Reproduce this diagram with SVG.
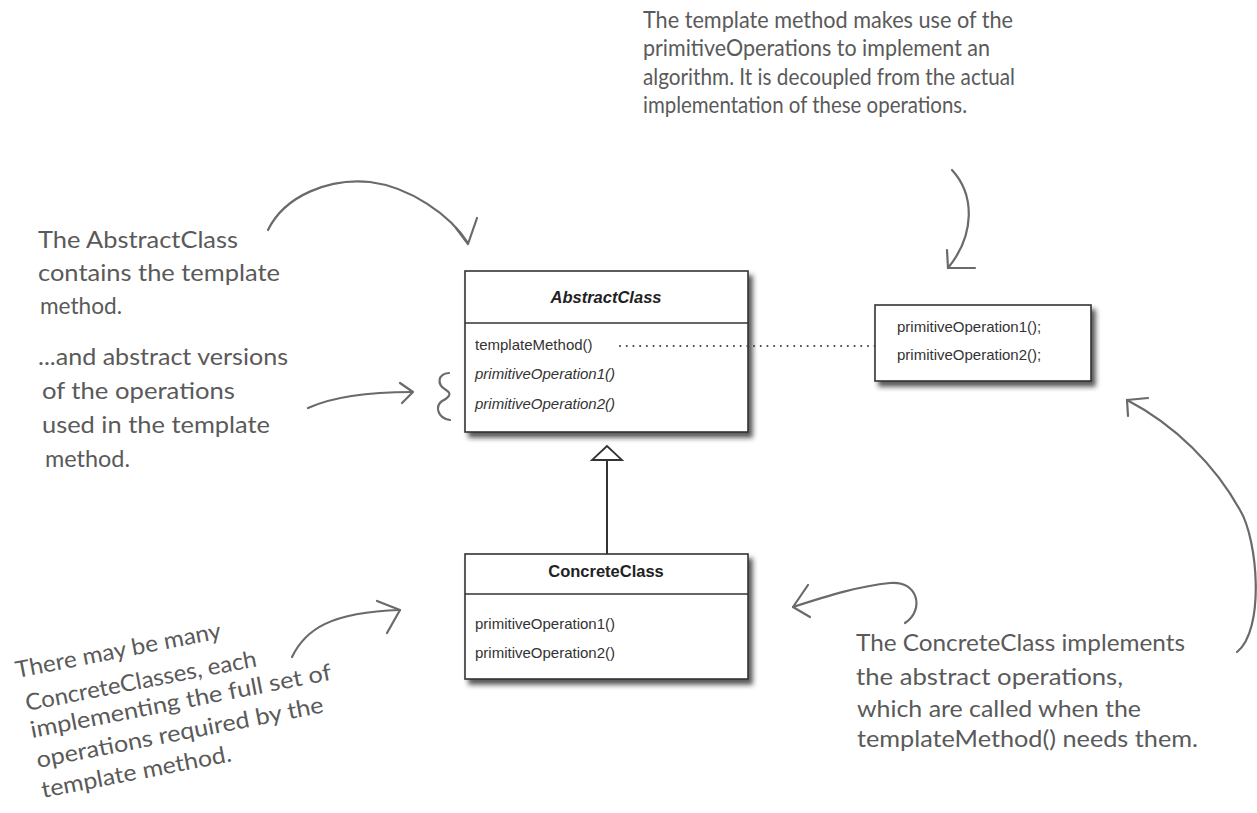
<svg xmlns="http://www.w3.org/2000/svg" width="1257" height="813" viewBox="0 0 1257 813">
<defs>
<filter id="shadow" x="-10%" y="-10%" width="130%" height="130%">
<feDropShadow dx="4" dy="5" stdDeviation="2.5" flood-color="#222" flood-opacity="0.75"/>
</filter>
</defs>
<style>
.box{fill:#fff;stroke:#333;stroke-width:1.6}
.div{stroke:#333;stroke-width:1.4}
.uml{font-family:"Liberation Sans",Arial,sans-serif;font-size:15px;fill:#333}
.title{font-family:"Liberation Sans",Arial,sans-serif;font-size:16.5px;font-weight:bold;fill:#222}
.hand{font-family:Lato,"Open Sans",sans-serif;font-size:23px;fill:#5a5a5a}
.pen{fill:none;stroke:#6a6a6a;stroke-width:2.2;stroke-linecap:round;stroke-linejoin:round}
</style>
<rect width="1257" height="813" fill="#fff"/>

<g id="abstract-class">
<rect class="box" x="465" y="271" width="283" height="161" filter="url(#shadow)"/>
<line class="div" x1="465" y1="323" x2="748" y2="323"/>
<text class="title" x="606" y="303" text-anchor="middle" font-style="italic">AbstractClass</text>
<text class="uml" x="475" y="350">templateMethod()</text>
<text class="uml" x="475" y="379" font-style="italic">primitiveOperation1()</text>
<text class="uml" x="475" y="409" font-style="italic">primitiveOperation2()</text>
</g>

<g id="template-impl">
<rect class="box" x="875" y="305" width="216" height="76" filter="url(#shadow)"/>
<text class="uml" x="897" y="332">primitiveOperation1();</text>
<text class="uml" x="897" y="360">primitiveOperation2();</text>
</g>

<g id="concrete-class">
<rect class="box" x="465" y="554" width="283" height="125" filter="url(#shadow)"/>
<line class="div" x1="465" y1="594" x2="748" y2="594"/>
<text class="title" x="606" y="577" text-anchor="middle">ConcreteClass</text>
<text class="uml" x="475" y="629">primitiveOperation1()</text>
<text class="uml" x="475" y="658">primitiveOperation2()</text>
</g>

<g id="connectors">
<line x1="620" y1="346" x2="875" y2="346" stroke="#444" stroke-width="2" stroke-dasharray="0.1 6.6" stroke-linecap="round"/>
<line x1="607" y1="460" x2="607" y2="554" stroke="#333" stroke-width="2"/>
<polygon points="607,446 592,460 622,460" fill="#fff" stroke="#333" stroke-width="1.8" stroke-linejoin="miter"/>
</g>

<g id="note-abstract">
<text class="hand" x="38" y="248" textLength="200" lengthAdjust="spacingAndGlyphs">The AbstractClass</text>
<text class="hand" x="38" y="281" textLength="242" lengthAdjust="spacingAndGlyphs">contains the template</text>
<text class="hand" x="40" y="314" textLength="82" lengthAdjust="spacingAndGlyphs">method.</text>
<path class="pen" d="M268,230 C285,195 330,178 370,182 C410,187 450,215 468,243"/>
<path class="pen" d="M456,228 L468,244 L477,218"/>
</g>

<g id="note-abstract-ops">
<text class="hand" x="38" y="365" textLength="250" lengthAdjust="spacingAndGlyphs">...and abstract versions</text>
<text class="hand" x="42" y="399" textLength="193" lengthAdjust="spacingAndGlyphs">of the operations</text>
<text class="hand" x="42" y="433" textLength="228" lengthAdjust="spacingAndGlyphs">used in the template</text>
<text class="hand" x="45" y="467" textLength="85" lengthAdjust="spacingAndGlyphs">method.</text>
<path class="pen" d="M308,408 C330,398 360,392 412,392"/>
<path class="pen" d="M400,383 L413,392 L402,403"/>
<path class="pen" d="M449,373 C438,374 436,384 446,390 C453,394 448,398 442,401 C435,406 437,418 450,420"/>
</g>

<g id="note-template">
<text class="hand" x="643" y="28" textLength="370" lengthAdjust="spacingAndGlyphs">The template method makes use of the</text>
<text class="hand" x="643" y="56" textLength="347" lengthAdjust="spacingAndGlyphs">primitiveOperations to implement an</text>
<text class="hand" x="643" y="85" textLength="372" lengthAdjust="spacingAndGlyphs">algorithm. It is decoupled from the actual</text>
<text class="hand" x="643" y="113" textLength="324" lengthAdjust="spacingAndGlyphs">implementation of these operations.</text>
<path class="pen" d="M952,170 C975,195 975,235 948,268"/>
<path class="pen" d="M947,250 L948,268 L975,268"/>
</g>

<g id="note-many">
<text class="hand" transform="translate(17,678) rotate(-11)" textLength="209" lengthAdjust="spacingAndGlyphs">There may be many</text>
<text class="hand" transform="translate(27,711) rotate(-11)" textLength="235" lengthAdjust="spacingAndGlyphs">ConcreteClasses, each</text>
<text class="hand" transform="translate(32,738) rotate(-11)" textLength="306" lengthAdjust="spacingAndGlyphs">implementing the full set of</text>
<text class="hand" transform="translate(38,768) rotate(-11)" textLength="292" lengthAdjust="spacingAndGlyphs">operations required by the</text>
<text class="hand" transform="translate(43,798) rotate(-11)" textLength="193" lengthAdjust="spacingAndGlyphs">template method.</text>
<path class="pen" d="M292,657 C305,630 330,612 400,610"/>
<path class="pen" d="M377,601 L400,610 L387,633"/>
</g>

<g id="note-concrete">
<text class="hand" x="856" y="651" textLength="329" lengthAdjust="spacingAndGlyphs">The ConcreteClass implements</text>
<text class="hand" x="856" y="685" textLength="267" lengthAdjust="spacingAndGlyphs">the abstract operations,</text>
<text class="hand" x="857" y="717" textLength="284" lengthAdjust="spacingAndGlyphs">which are called when the</text>
<text class="hand" x="857" y="747" textLength="341" lengthAdjust="spacingAndGlyphs">templateMethod() needs them.</text>
<path class="pen" d="M905,623 C925,610 918,580 890,583 C860,586 830,595 793,607"/>
<path class="pen" d="M808,585 L793,607 L810,617"/>
<path class="pen" d="M1237,652 C1265,630 1258,540 1240,510 C1215,465 1175,425 1127,400"/>
<path class="pen" d="M1128,416 L1127,400 L1148,398"/>
</g>
</svg>
